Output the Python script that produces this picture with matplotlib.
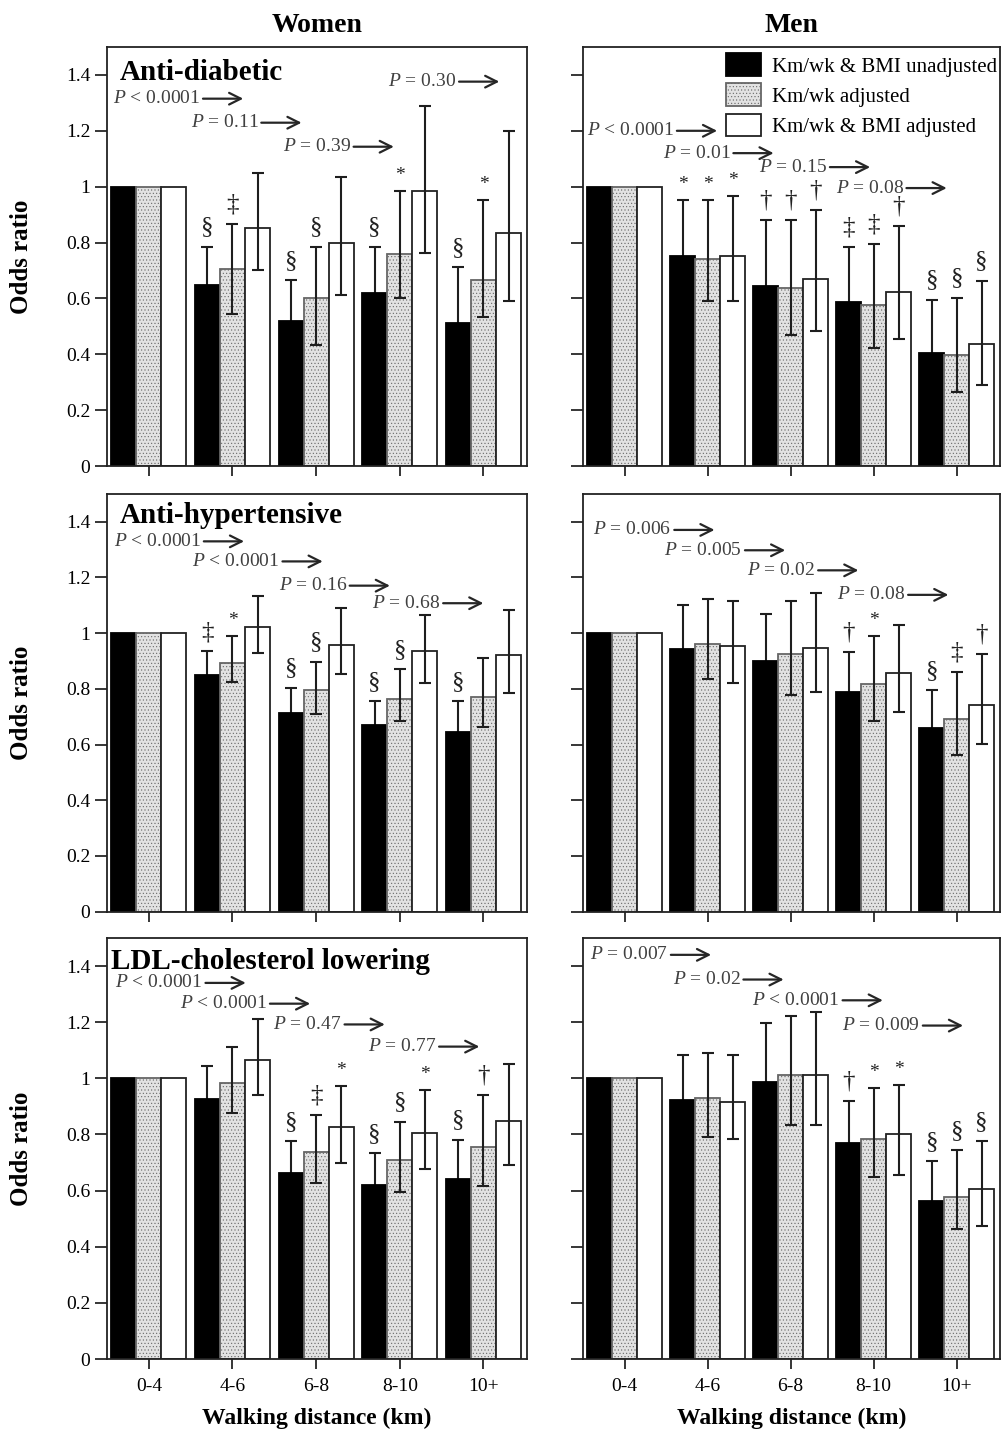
import numpy as np
import matplotlib
matplotlib.use('Agg')
import matplotlib.pyplot as plt
from matplotlib.text import OffsetFrom
from matplotlib.ticker import FuncFormatter

plt.rcParams['font.family'] = ['Liberation Serif', 'DejaVu Serif']
plt.rcParams['mathtext.fontset'] = 'custom'
plt.rcParams['mathtext.it'] = 'Liberation Serif:italic'
plt.rcParams['mathtext.rm'] = 'Liberation Serif'
plt.rcParams['hatch.linewidth'] = 0.4

nan = np.nan
groups = ['0-4', '4-6', '6-8', '8-10', '10+']
series_names = ['Km/wk & BMI unadjusted', 'Km/wk adjusted', 'Km/wk & BMI adjusted']

# women, anti-diabetic
wd_or = [[1, 0.649, 0.520, 0.619, 0.511], [1, 0.705, 0.600, 0.759, 0.667], [1, 0.851, 0.797, 0.983, 0.834]]
wd_hi = [[nan, 0.785, 0.665, 0.785, 0.711], [nan, 0.868, 0.785, 0.986, 0.953], [nan, 1.048, 1.033, 1.287, 1.198]]
wd_lo = [[nan, 0.53, 0.40, 0.49, 0.36], [nan, 0.544, 0.434, 0.603, 0.534], [nan, 0.701, 0.612, 0.762, 0.591]]
wd_sig = [['', '§', '§', '§', '§'], ['', '‡', '§', '*', '*'], ['', '', '', '', '']]
wd_p = ['< 0.0001', '= 0.11', '= 0.39', '= 0.30']

# men, anti-diabetic
md_or = [[1, 0.752, 0.646, 0.586, 0.406], [1, 0.740, 0.638, 0.578, 0.398], [1, 0.752, 0.668, 0.623, 0.436]]
md_hi = [[nan, 0.953, 0.881, 0.784, 0.596], [nan, 0.953, 0.881, 0.794, 0.602], [nan, 0.965, 0.917, 0.860, 0.664]]
md_lo = [[nan, 0.59, 0.47, 0.43, 0.27], [nan, 0.590, 0.470, 0.424, 0.266], [nan, 0.590, 0.484, 0.454, 0.290]]
md_sig = [['', '*', '†', '‡', '§'], ['', '*', '†', '‡', '§'], ['', '*', '†', '†', '§']]
md_p = ['< 0.0001', '= 0.01', '= 0.15', '= 0.08']

# women, anti-hypertensive
wh_or = [[1, 0.850, 0.714, 0.670, 0.646], [1, 0.894, 0.796, 0.765, 0.772], [1, 1.023, 0.957, 0.934, 0.922]]
wh_hi = [[nan, 0.934, 0.804, 0.756, 0.756], [nan, 0.990, 0.897, 0.870, 0.912], [nan, 1.132, 1.089, 1.065, 1.084]]
wh_lo = [[nan, 0.77, 0.63, 0.59, 0.55], [nan, 0.825, 0.708, 0.684, 0.664], [nan, 0.928, 0.852, 0.822, 0.786]]
wh_sig = [['', '‡', '§', '§', '§'], ['', '*', '§', '§', ''], ['', '', '', '', '']]
wh_p = ['< 0.0001', '< 0.0001', '= 0.16', '= 0.68']

# men, anti-hypertensive
mh_or = [[1, 0.944, 0.901, 0.788, 0.661], [1, 0.960, 0.925, 0.818, 0.691], [1, 0.954, 0.946, 0.856, 0.743]]
mh_hi = [[nan, 1.102, 1.068, 0.932, 0.796], [nan, 1.122, 1.114, 0.988, 0.859], [nan, 1.114, 1.144, 1.030, 0.926]]
mh_lo = [[nan, 0.81, 0.76, 0.67, 0.55], [nan, 0.835, 0.776, 0.686, 0.563], [nan, 0.820, 0.790, 0.716, 0.602]]
mh_sig = [['', '', '', '†', '§'], ['', '', '', '*', '‡'], ['', '', '', '', '†']]
mh_p = ['= 0.006', '= 0.005', '= 0.02', '= 0.08']

# women, LDL-cholesterol lowering
wl_or = [[1, 0.928, 0.664, 0.619, 0.640], [1, 0.982, 0.738, 0.708, 0.757], [1, 1.066, 0.827, 0.805, 0.849]]
wl_hi = [[nan, 1.045, 0.777, 0.733, 0.781], [nan, 1.113, 0.869, 0.845, 0.940], [nan, 1.212, 0.974, 0.959, 1.051]]
wl_lo = [[nan, 0.83, 0.57, 0.52, 0.53], [nan, 0.876, 0.628, 0.596, 0.616], [nan, 0.940, 0.700, 0.678, 0.690]]
wl_sig = [['', '', '§', '§', '§'], ['', '', '‡', '§', '†'], ['', '', '*', '*', '']]
wl_p = ['< 0.0001', '< 0.0001', '= 0.47', '= 0.77']

# men, LDL-cholesterol lowering
ml_or = [[1, 0.922, 0.988, 0.771, 0.562], [1, 0.931, 1.011, 0.784, 0.577], [1, 0.915, 1.011, 0.802, 0.605]]
ml_hi = [[nan, 1.083, 1.198, 0.921, 0.705], [nan, 1.090, 1.222, 0.964, 0.745], [nan, 1.083, 1.236, 0.978, 0.775]]
ml_lo = [[nan, 0.79, 0.82, 0.65, 0.45], [nan, 0.790, 0.832, 0.649, 0.463], [nan, 0.783, 0.832, 0.655, 0.475]]
ml_sig = [['', '', '', '†', '§'], ['', '', '', '*', '§'], ['', '', '', '*', '§']]
ml_p = ['= 0.007', '= 0.02', '< 0.0001', '= 0.009']

# layout (title/P-label positions)
panels = [
    ('Anti-diabetic', wd_or, wd_lo, wd_hi, wd_sig, wd_p, 0, 0, (0.031, 0.938),
     [(-0.43, 1.315), (0.50, 1.229), (1.60, 1.143), (2.86, 1.376)]),
    (None, md_or, md_lo, md_hi, md_sig, md_p, 0, 1, None,
     [(-0.455, 1.20), (0.46, 1.12), (1.62, 1.07), (2.54, 0.995)]),
    ('Anti-hypertensive', wh_or, wh_lo, wh_hi, wh_sig, wh_p, 1, 0, (0.031, 0.947),
     [(-0.42, 1.329), (0.52, 1.257), (1.55, 1.170), (2.67, 1.107)]),
    (None, mh_or, mh_lo, mh_hi, mh_sig, mh_p, 1, 1, None,
     [(-0.375, 1.37), (0.48, 1.297), (1.48, 1.225), (2.56, 1.137)]),
    ('LDL-cholesterol lowering', wl_or, wl_lo, wl_hi, wl_sig, wl_p, 2, 0, (0.009, 0.944),
     [(-0.40, 1.340), (0.37, 1.266), (1.49, 1.192), (2.62, 1.113)]),
    (None, ml_or, ml_lo, ml_hi, ml_sig, ml_p, 2, 1, None,
     [(-0.415, 1.44), (0.58, 1.352), (1.54, 1.278), (2.62, 1.188)]),
]

W, H = 1002, 1433
fig = plt.figure(figsize=(W / 100, H / 100), dpi=100)
col_left = [107 / W, 583 / W]
col_w = [420 / W, 417 / W]
row_bot = [1 - 466 / H, 1 - 911.7 / H, 1 - 1359 / H]
row_h = [419 / H, 418 / H, 421 / H]

x = np.arange(len(groups))
w = 0.3
bar_styles = [
    dict(color='black', edgecolor='black'),
    dict(facecolor='#e2e2e2', edgecolor='#666666', hatch='.....'),
    dict(facecolor='white', edgecolor='#222222'),
]

for title, vals, los, his, sigs, ptxt, r, c, tpos, ppos in panels:
    ax = fig.add_axes([col_left[c], row_bot[r], col_w[c], row_h[r]])
    handles = []
    for k in range(3):
        xs = x + (k - 1) * w
        v = np.array(vals[k], dtype=float)
        hi = np.array(his[k], dtype=float)
        lo = np.array(los[k], dtype=float)
        b = ax.bar(xs, v, w, linewidth=1.3, zorder=2, label=series_names[k], **bar_styles[k])
        handles.append(b)
        # lower half of the black bars' intervals is hidden behind the bar
        ax.errorbar(xs, v, yerr=[v - lo, hi - v], fmt='none', ecolor='#1e1e1e',
                    elinewidth=1.5, capsize=4.5, capthick=1.5, zorder=1 if k == 0 else 3)
        for i, s in enumerate(sigs[k]):
            if s:
                ax.annotate(s, (xs[i], hi[i]), xytext=(0, 5 if s == '*' else 6),
                            textcoords='offset points', ha='center', va='bottom',
                            fontsize=14 if s == '*' else 18, color='#222222')

    for txt, (px, py) in zip(ptxt, ppos):
        t = ax.text(px, py, r'$P$ ' + txt, fontsize=14, color='0.25', ha='left', va='center')
        ax.annotate('', xy=(31, 0), xycoords=OffsetFrom(t, (1, 0.5)),
                    xytext=(2, 0), textcoords=OffsetFrom(t, (1, 0.5)),
                    arrowprops=dict(arrowstyle='->,head_length=0.7,head_width=0.35', lw=1.6,
                                    color='0.15', shrinkA=0, shrinkB=0, mutation_scale=12))

    if title:
        ax.text(tpos[0], tpos[1], title, transform=ax.transAxes, fontsize=21,
                fontweight='bold', ha='left', va='center')

    ax.set_xlim(-0.5, 4.52)
    ax.set_ylim(0, 1.5)
    ax.set_yticks(np.arange(0, 1.41, 0.2))
    ax.yaxis.set_major_formatter(FuncFormatter(lambda v, _: '%g' % round(v, 2)))
    ax.set_xticks(x)
    ax.set_xticklabels(groups)
    ax.tick_params(axis='y', direction='out', length=9, width=1.1, labelsize=14, pad=3,
                   labelleft=(c == 0), right=False)
    ax.tick_params(axis='x', direction='out', length=7, width=1.1, labelsize=14, pad=7,
                   labelbottom=(r == 2), top=False)
    for sp in ax.spines.values():
        sp.set_linewidth(1.3)
        sp.set_color('#222222')

    if r == 0:
        ax.set_title('Women' if c == 0 else 'Men', fontsize=20, fontweight='bold', pad=11)
        if c == 1:
            ax.legend(handles=handles, loc='upper left', bbox_to_anchor=(0.343, 0.985),
                      frameon=False, fontsize=15, handlelength=1.7, handleheight=1.3,
                      handletextpad=0.5, labelspacing=0.33, borderpad=0, borderaxespad=0)
    if c == 0:
        fig.text(22 / W, row_bot[r] + row_h[r] / 2, 'Odds ratio', rotation=90,
                 fontsize=18, fontweight='bold', ha='center', va='center')
    if r == 2:
        fig.text(col_left[c] + col_w[c] / 2, 1 - 1418 / H, 'Walking distance (km)',
                 fontsize=17, fontweight='bold', ha='center', va='center')

fig.savefig('out.png', dpi=100)
